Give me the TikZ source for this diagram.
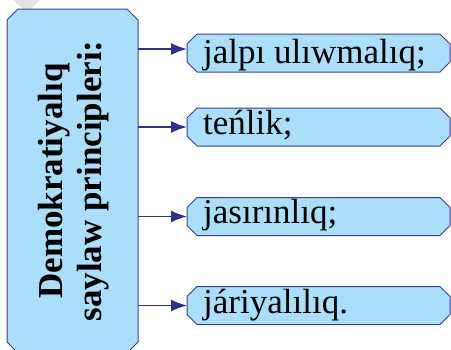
\documentclass[tikz,border=0pt]{standalone}
\usepackage{fontspec}
\setmainfont{Liberation Serif}
\usetikzlibrary{calc,arrows.meta}
\definecolor{boxfill}{HTML}{A9DFF8}
\definecolor{boxedge}{HTML}{3A3C9C}
\definecolor{arrowc}{HTML}{2E3192}
\definecolor{wm}{HTML}{E4E4E4}
\newcommand\chamfpath[2]{%
 \path[boxline] ($(#1.north west)+(#2,0)$) -- ($(#1.north east)+(-#2,0)$) -- ($(#1.north east)+(0,-#2)$) -- ($(#1.south east)+(0,#2)$) -- ($(#1.south east)+(-#2,0)$) -- ($(#1.south west)+(#2,0)$) -- ($(#1.south west)+(0,#2)$) -- ($(#1.north west)+(0,-#2)$) -- cycle;}
\begin{document}
\begin{tikzpicture}[x=1pt,y=-1pt,
  boxline/.style={draw=boxedge, line width=1pt, fill=boxfill},
  frame/.style={inner sep=0pt, outer sep=0pt, minimum width=#1},
  frame/.default=263pt,
  item/.style={frame, minimum height=38pt},
  txt/.style={inner sep=0pt, anchor=base west, font=\fontsize{35}{40}\selectfont, text=black},
  arr/.style={draw=arrowc, line width=1.6pt, -{Latex[length=16pt,width=12pt]}}]
\useasboundingbox (0,0) rectangle (451,349);
\fill[wm] (13,0) -- (40,0) -- (27,12) -- cycle;
% frames
\node[frame=131pt, minimum height=344pt] (main) at (72.5,181) {};
\node[item] (b1) at (318.5,53) {};
\node[item] (b2) at (318.5,127) {};
\node[item] (b3) at (318.5,216.5) {};
\node[item] (b4) at (318.5,305.5) {};
\chamfpath{main}{11pt}
\chamfpath{b1}{10pt}
\chamfpath{b2}{10pt}
\chamfpath{b3}{10pt}
\chamfpath{b4}{10pt}
% texts
\node[rotate=90, inner sep=0pt, align=center, font=\bfseries\fontsize{35}{39}\selectfont, text=black] (mt) at (74,181) {Demokratiyalıq\\saylaw principleri:};
\node[txt] (l1) at (203,63) {jalpı ulıwmalıq;};
\node[txt] (l2) at (203,134) {teńlik;};
\node[txt] (l3) at (203,223) {jasırınlıq;};
\node[txt] (l4) at (203,313) {járiyalılıq.};
% arrows
\draw[arr] ($(main.east |- b1.west)+(0,4pt)$) -- ($(b1.west)+(0,4pt)$);
\draw[arr] (main.east |- b2.west) -- (b2.west);
\draw[arr] (main.east |- b3.west) -- (b3.west);
\draw[arr] (main.east |- b4.west) -- (b4.west);
\end{tikzpicture}
\end{document}
